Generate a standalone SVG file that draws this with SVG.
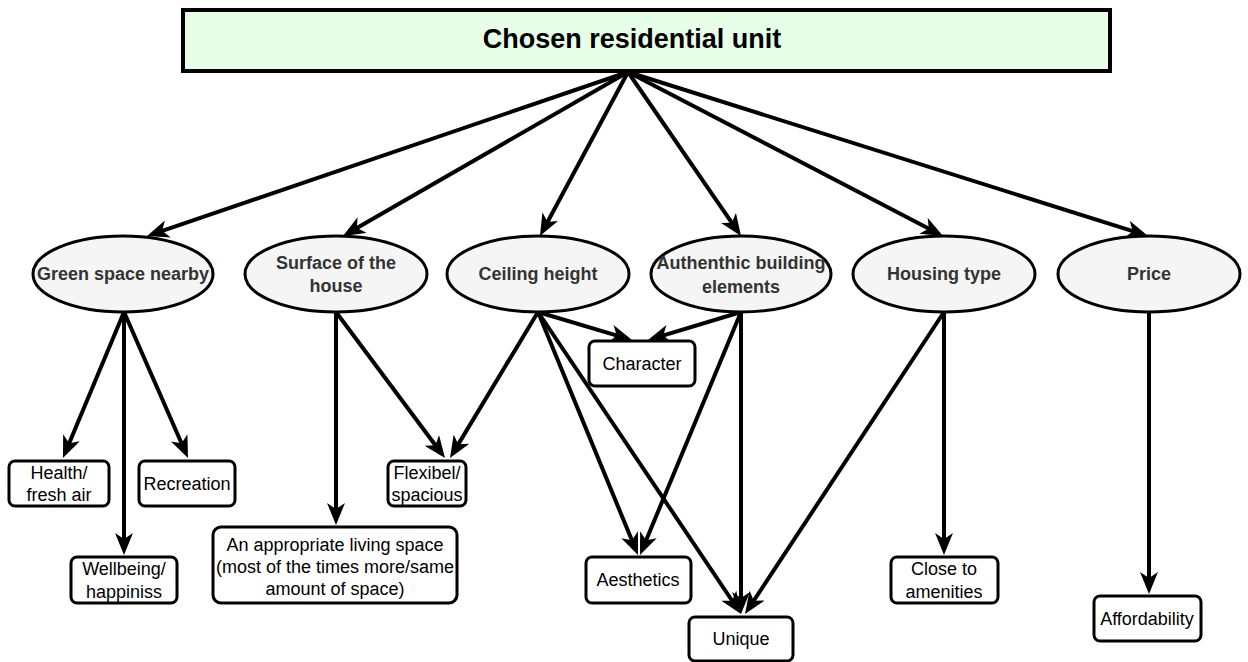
<svg xmlns="http://www.w3.org/2000/svg" width="1248" height="662" viewBox="0 0 1248 662">
  <style>
    .edge { fill: none; stroke: #000; stroke-width: 4; marker-end: url(#arrow); }
    .root { fill: #e6ffe6; stroke: #000; stroke-width: 4; }
    .factor { fill: #f5f5f5; stroke: #000; stroke-width: 3; }
    .item { fill: #fff; stroke: #000; stroke-width: 3; }
    .title { font-family: "Liberation Sans", Arial, sans-serif; font-weight: bold; font-size: 27px; fill: #000; text-anchor: middle; }
    .flabel { font-family: "Liberation Sans", Arial, sans-serif; font-weight: bold; font-size: 18px; fill: #333; text-anchor: middle; }
    .ilabel { font-family: "Liberation Sans", Arial, sans-serif; font-size: 18px; fill: #000; text-anchor: middle; }
  </style>
  <defs>
    <marker id="arrow" viewBox="0 0 22 18" refX="16" refY="9" markerWidth="22" markerHeight="18" markerUnits="userSpaceOnUse" orient="auto">
      <path d="M0,0 L22,9 L0,18 L6,9 Z" fill="#000"/>
    </marker>
  </defs>

  <!-- connectors -->
  <g id="connectors">
    <!-- root to factors -->
    <path class="edge" d="M628,72 L152.7,234.1"/>
    <path class="edge" d="M628,72 L348.2,233"/>
    <path class="edge" d="M628,72 L542.8,230.7"/>
    <path class="edge" d="M628,72 L737.6,231.1"/>
    <path class="edge" d="M628,72 L937.7,233.2"/>
    <path class="edge" d="M628,72 L1142.3,234.2"/>
    <!-- green space -->
    <path class="edge" d="M124,312 L65.3,452.5"/>
    <path class="edge" d="M124,312 L124,549"/>
    <path class="edge" d="M124,312 L185.6,452.5"/>
    <!-- surface -->
    <path class="edge" d="M336,312 L336,519"/>
    <path class="edge" d="M336,312 L441.4,453.2"/>
    <!-- ceiling height -->
    <path class="edge" d="M538,312 L453.1,452.9"/>
    <path class="edge" d="M538,312 L626.3,338.3"/>
    <path class="edge" d="M538,312 L635.7,549.5"/>
    <path class="edge" d="M538,312 L737.7,609"/>
    <!-- authentic elements -->
    <path class="edge" d="M741,312 L653.7,338.3"/>
    <path class="edge" d="M741,312 L642.3,549.5"/>
    <path class="edge" d="M741,312 L741,608"/>
    <!-- housing type -->
    <path class="edge" d="M944,312 L944,549"/>
    <path class="edge" d="M944,312 L748.3,609"/>
    <!-- price -->
    <path class="edge" d="M1149,312 L1149,588"/>
  </g>

  <g id="root">
    <rect class="root" x="183" y="10" width="927" height="61"/>
    <text class="title" x="632" y="48">Chosen residential unit</text>
  </g>

  <g id="green-space">
    <ellipse class="factor" cx="123" cy="274" rx="90" ry="38"/>
    <text class="flabel" x="123" y="280">Green space nearby</text>
  </g>
  <g id="surface">
    <ellipse class="factor" cx="336" cy="274" rx="91" ry="38"/>
    <text class="flabel" x="336" y="269">Surface of the</text>
    <text class="flabel" x="336" y="292">house</text>
  </g>
  <g id="ceiling">
    <ellipse class="factor" cx="538" cy="274" rx="91" ry="38"/>
    <text class="flabel" x="538" y="280">Ceiling height</text>
  </g>
  <g id="authentic">
    <ellipse class="factor" cx="741" cy="274" rx="90" ry="38"/>
    <text class="flabel" x="741" y="269">Authenthic building</text>
    <text class="flabel" x="741" y="293">elements</text>
  </g>
  <g id="housing">
    <ellipse class="factor" cx="944" cy="274" rx="91" ry="38"/>
    <text class="flabel" x="944" y="280">Housing type</text>
  </g>
  <g id="price">
    <ellipse class="factor" cx="1149" cy="274" rx="91" ry="38"/>
    <text class="flabel" x="1149" y="280">Price</text>
  </g>

  <g id="health">
    <rect class="item" x="9" y="461" width="100" height="45" rx="6"/>
    <text class="ilabel" x="59" y="479">Health/</text>
    <text class="ilabel" x="59" y="501">fresh air</text>
  </g>
  <g id="recreation">
    <rect class="item" x="139" y="461" width="96" height="45" rx="6"/>
    <text class="ilabel" x="187" y="490">Recreation</text>
  </g>
  <g id="wellbeing">
    <rect class="item" x="71" y="557" width="106" height="46" rx="6"/>
    <text class="ilabel" x="124" y="575">Wellbeing/</text>
    <text class="ilabel" x="124" y="598">happiniss</text>
  </g>
  <g id="living-space">
    <rect class="item" x="213" y="527" width="244" height="76" rx="8"/>
    <text class="ilabel" x="335" y="551">An appropriate living space</text>
    <text class="ilabel" x="335" y="573">(most of the times more/same</text>
    <text class="ilabel" x="335" y="595">amount of space)</text>
  </g>
  <g id="flexibel">
    <rect class="item" x="388" y="461" width="78" height="45" rx="6"/>
    <text class="ilabel" x="427" y="479">Flexibel/</text>
    <text class="ilabel" x="427" y="501">spacious</text>
  </g>
  <g id="character">
    <rect class="item" x="589" y="341" width="106" height="45" rx="6"/>
    <text class="ilabel" x="642" y="370">Character</text>
  </g>
  <g id="aesthetics">
    <rect class="item" x="586" y="557" width="105" height="46" rx="6"/>
    <text class="ilabel" x="638" y="586">Aesthetics</text>
  </g>
  <g id="unique">
    <rect class="item" x="689" y="617" width="104" height="44" rx="6"/>
    <text class="ilabel" x="741" y="645">Unique</text>
  </g>
  <g id="amenities">
    <rect class="item" x="891" y="557" width="107" height="46" rx="6"/>
    <text class="ilabel" x="944" y="575">Close to</text>
    <text class="ilabel" x="944" y="598">amenities</text>
  </g>
  <g id="affordability">
    <rect class="item" x="1094" y="596" width="107" height="45" rx="6"/>
    <text class="ilabel" x="1147" y="625">Affordability</text>
  </g>
</svg>
